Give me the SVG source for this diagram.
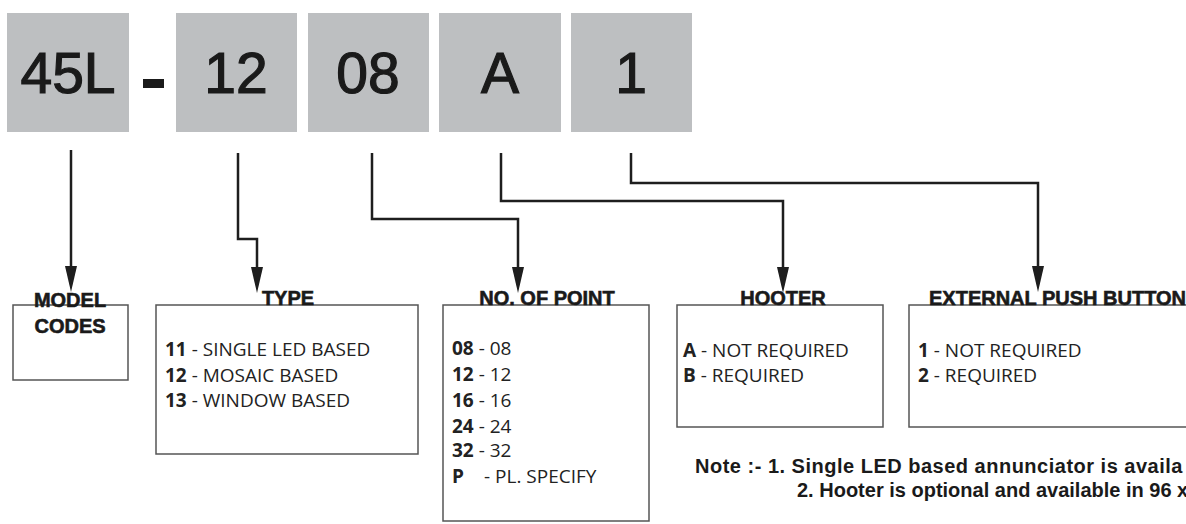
<svg xmlns="http://www.w3.org/2000/svg" width="1186" height="524" viewBox="0 0 1186 524">
<style>
.code{fill:#bdbfc1}
.big{font-family:"Liberation Sans",Arial,sans-serif;font-size:57px;fill:#1a1a1a;stroke:#1a1a1a;stroke-width:1.2;text-anchor:middle}
.box{fill:#fff;stroke:#555;stroke-width:1.5}
.lbl{font-family:"Liberation Sans",Arial,sans-serif;font-size:20px;font-weight:bold;fill:#1a1a1a;stroke:#1a1a1a;stroke-width:0.6;text-anchor:middle}
.item{font-family:"Open Sans","Liberation Sans",sans-serif;font-size:19px;fill:#222}
.b{font-weight:bold}
.conn{fill:none;stroke:#1e1e1e;stroke-width:2.5}
.note{font-family:"Liberation Sans",Arial,sans-serif;font-size:20px;font-weight:bold;fill:#1a1a1a}
</style>
<defs>
<marker id="ah" viewBox="0 0 26 12" refX="16" refY="6" markerWidth="26" markerHeight="12" orient="auto" markerUnits="userSpaceOnUse">
<path d="M0,0 L26,6 L0,12 Z" fill="#1e1e1e"/>
</marker>
</defs>
<rect width="1186" height="524" fill="#fff"/>
<g id="code-45L"><rect class="code" x="7" y="13" width="122" height="119"/><text class="big" x="68" y="93">45L</text></g>
<g id="dash"><rect x="143" y="79" width="21" height="9" fill="#1a1a1a"/></g>
<g id="code-12"><rect class="code" x="176" y="13" width="121" height="119"/><text class="big" x="236" y="93">12</text></g>
<g id="code-08"><rect class="code" x="308" y="13" width="121" height="119"/><text class="big" x="368" y="93">08</text></g>
<g id="code-A"><rect class="code" x="439" y="13" width="122" height="119"/><text class="big" x="500" y="93">A</text></g>
<g id="code-1"><rect class="code" x="571" y="13" width="121" height="119"/><text class="big" x="631" y="93">1</text></g>
<g id="connectors">
<path class="conn" d="M71,150 V282" marker-end="url(#ah)"/>
<path class="conn" d="M238,153 V239 H257 V283" marker-end="url(#ah)"/>
<path class="conn" d="M372,153 V219 H518 V283" marker-end="url(#ah)"/>
<path class="conn" d="M501,153 V201 H783 V283" marker-end="url(#ah)"/>
<path class="conn" d="M631,153 V183 H1038 V282" marker-end="url(#ah)"/>
</g>
<g id="model-codes">
<rect class="box" x="13" y="305" width="115" height="75"/>
<text class="lbl" x="70" y="307">MODEL</text>
<text class="lbl" x="70" y="333">CODES</text>
</g>
<g id="type">
<rect class="box" x="156" y="305" width="262" height="149"/>
<text class="lbl" x="288" y="305">TYPE</text>
<text class="item" x="165" y="356"><tspan class="b">11</tspan> - SINGLE LED BASED</text>
<text class="item" x="165" y="382"><tspan class="b">12</tspan> - MOSAIC BASED</text>
<text class="item" x="165" y="407"><tspan class="b">13</tspan> - WINDOW BASED</text>
</g>
<g id="no-of-point">
<rect class="box" x="443" y="305" width="206" height="216"/>
<text class="lbl" x="547" y="305">NO. OF POINT</text>
<text class="item" x="452" y="355"><tspan class="b">08</tspan> - 08</text>
<text class="item" x="452" y="381"><tspan class="b">12</tspan> - 12</text>
<text class="item" x="452" y="407"><tspan class="b">16</tspan> - 16</text>
<text class="item" x="452" y="433"><tspan class="b">24</tspan> - 24</text>
<text class="item" x="452" y="457"><tspan class="b">32</tspan> - 32</text>
<text class="item" x="452" y="483"><tspan class="b">P</tspan><tspan x="484">- PL. SPECIFY</tspan></text>
</g>
<g id="hooter">
<rect class="box" x="677" y="305" width="206" height="122"/>
<text class="lbl" x="783" y="305">HOOTER</text>
<text class="item" x="683" y="357"><tspan class="b">A</tspan> - NOT REQUIRED</text>
<text class="item" x="683" y="382"><tspan class="b">B</tspan> - REQUIRED</text>
</g>
<g id="external-push-button">
<rect class="box" x="909" y="305" width="290" height="122"/>
<text class="lbl" x="929" y="305" style="text-anchor:start">EXTERNAL PUSH BUTTON</text>
<text class="item" x="918" y="357"><tspan class="b">1</tspan> - NOT REQUIRED</text>
<text class="item" x="918" y="382"><tspan class="b">2</tspan> - REQUIRED</text>
</g>
<g id="note">
<text class="note" x="695" y="473" letter-spacing="0.5">Note :- 1. Single LED based annunciator is availa</text>
<text class="note" x="797" y="497">2. Hooter is optional and available in 96 x</text>
</g>
</svg>
